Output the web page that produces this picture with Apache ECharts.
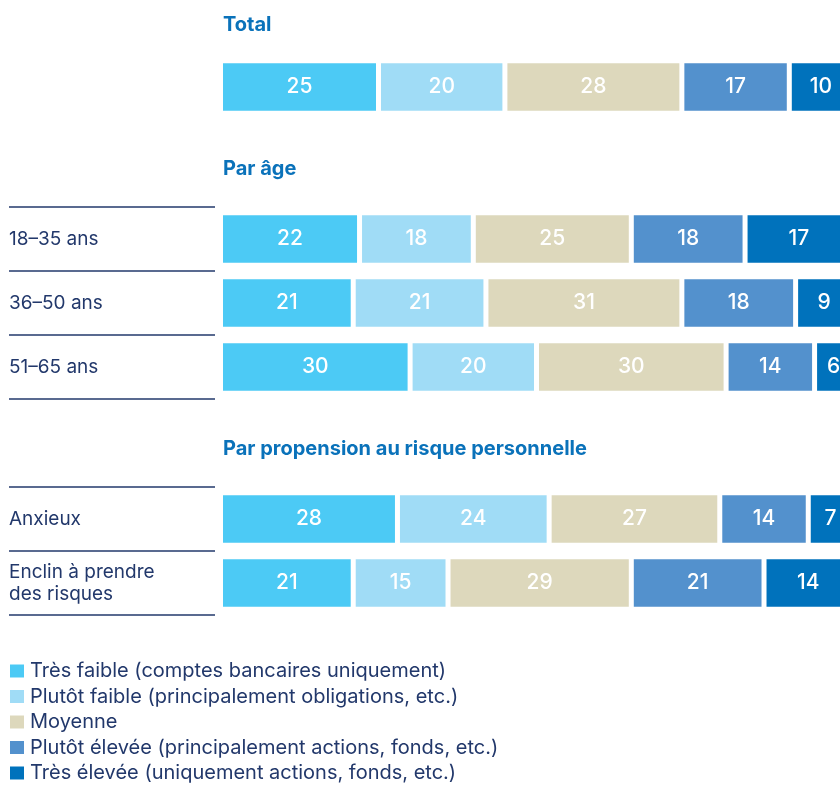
<!DOCTYPE html>
<html>
<head>
<meta charset="utf-8">
<script src="https://cdn.jsdelivr.net/npm/echarts@6/dist/echarts.min.js"></script>
<style>
  html, body { margin: 0; padding: 0; background: #fff; }
  #chart { width: 840px; height: 785px; }
</style>
</head>
<body>
<div id="chart"></div>
<script>
// Risk-appetite levels (legend order, left to right in each bar)
const levels = [
  'Très faible (comptes bancaires uniquement)',
  'Plutôt faible (principalement obligations, etc.)',
  'Moyenne',
  'Plutôt élevée (principalement actions, fonds, etc.)',
  'Très élevée (uniquement actions, fonds, etc.)'
];

// Section headings
const sectionTitles = ['Total', 'Par âge', 'Par propension au risque personnelle'];

// Row groups
const totalRows = ['Total'];
const ageRows = ['18–35 ans', '36–50 ans', '51–65 ans'];
const riskRows = ['Anxieux', 'Enclin à prendre\ndes risques'];

// Shares in % per level, rows ordered: Total, 18–35, 36–50, 51–65, Anxieux, Enclin
const tresFaible   = [25, 22, 21, 30, 28, 21];
const plutotFaible = [20, 18, 21, 20, 24, 15];
const moyenne      = [28, 25, 31, 30, 27, 29];
const plutotElevee = [17, 18, 18, 14, 14, 21];
const tresElevee   = [10, 17,  9,  6,  7, 14];

const levelValues = [tresFaible, plutotFaible, moyenne, plutotElevee, tresElevee];
const levelColors = ['#4ccaf5', '#a0dcf6', '#ddd8bc', '#5391cd', '#0072bc'];

const navy = '#22386b';
const titleBlue = '#0a72ba';
const fontFamily = 'Inter, "Noto Sans", sans-serif';

// Layout of the three blocks: bars grid + (optional) row-label grid
const blocks = [
  { rows: totalRows, from: 0, top: 60,  height: 54,  labels: false },
  { rows: ageRows,   from: 1, top: 207, height: 192, labels: true },
  { rows: riskRows,  from: 4, top: 487, height: 128, labels: true }
];

const BAR_LEFT = 220.5;
const BAR_WIDTH = 632;
const GAP = 5;          // white gap between adjacent segments
const BAR_THICK = 47.7; // visible bar thickness

const grid = [], xAxis = [], yAxis = [], series = [];

blocks.forEach((b) => {
  // bar grid (the last segment runs past the right edge of the canvas)
  const gi = grid.length;
  grid.push({ left: BAR_LEFT, top: b.top, width: BAR_WIDTH, height: b.height, outerBoundsMode: 'none' });
  xAxis.push({ gridIndex: gi, type: 'value', min: 0, max: 100, show: false });
  yAxis.push({ gridIndex: gi, type: 'category', inverse: true, data: b.rows, show: false });
  levels.forEach((name, li) => {
    series.push({
      name,
      type: 'bar',
      stack: 'block' + gi,
      xAxisIndex: gi,
      yAxisIndex: gi,
      barWidth: BAR_THICK + GAP,
      clip: false,
      data: levelValues[li].slice(b.from, b.from + b.rows.length),
      itemStyle: { color: levelColors[li], borderColor: '#fff', borderWidth: GAP / 2 },
      label: {
        show: true,
        position: 'inside',
        color: '#fff',
        fontFamily,
        fontSize: 21,
        fontWeight: 500
      },
      emphasis: { disabled: true },
      animation: false
    });
  });

  // row-label grid with separator lines on the category boundaries
  if (b.labels) {
    const li = grid.length;
    grid.push({ left: 9, top: b.top, width: 206, height: b.height, outerBoundsMode: 'none' });
    xAxis.push({ gridIndex: li, type: 'value', show: false });
    yAxis.push({
      gridIndex: li,
      type: 'category',
      inverse: true,
      data: b.rows,
      axisLine: { show: false },
      axisTick: { show: false },
      axisLabel: {
        inside: true,
        margin: 0,
        color: navy,
        fontFamily,
        fontSize: 19,
        lineHeight: 22,
        align: 'left'
      },
      splitLine: {
        show: true,
        showMinLine: true,
        showMaxLine: true,
        lineStyle: { color: navy, width: 1.5 }
      }
    });
  }
});

const titleTops = [15, 159, 439];

const option = {
  backgroundColor: '#fff',
  animation: false,
  title: sectionTitles.map((t, i) => ({
    text: t,
    left: 223,
    top: titleTops[i],
    padding: 0,
    textStyle: { color: titleBlue, fontFamily, fontSize: 20, fontWeight: 'bold' }
  })),
  legend: {
    data: levels,
    orient: 'vertical',
    left: 8,
    top: 661,
    padding: 0,
    icon: 'rect',
    itemWidth: 16,
    itemHeight: 15,
    itemGap: 5.5,
    selectedMode: false,
    textStyle: { color: navy, fontFamily, fontSize: 20 }
  },
  color: levelColors,
  grid,
  xAxis,
  yAxis,
  series
};

const chart = echarts.init(document.getElementById('chart'), null, { renderer: 'canvas' });
chart.setOption(option);
</script>
</body>
</html>
